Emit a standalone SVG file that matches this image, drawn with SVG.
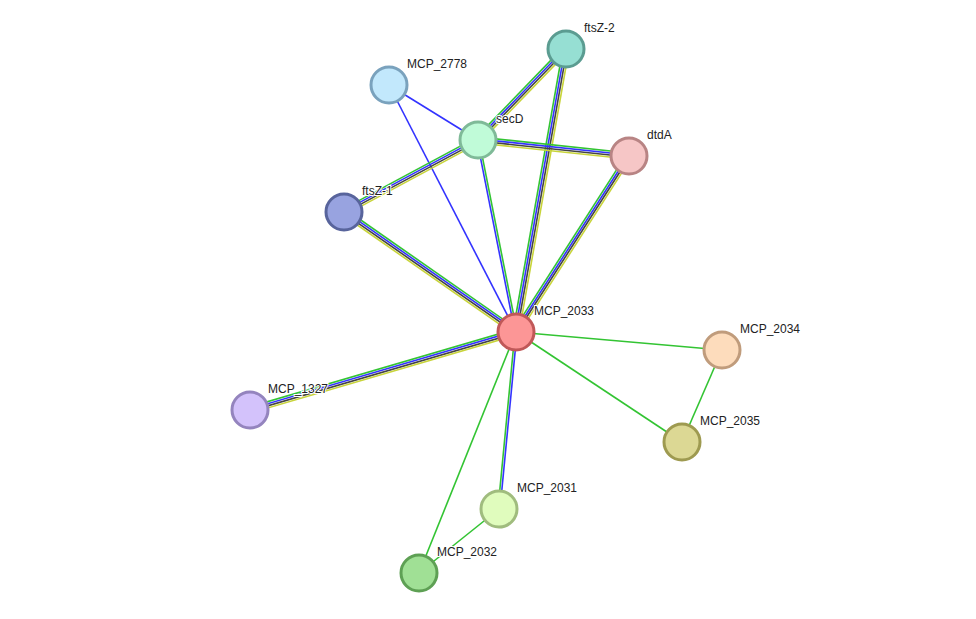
<svg xmlns="http://www.w3.org/2000/svg" width="976" height="619" viewBox="0 0 976 619">
<style>
line{stroke-width:1.6}
.g{stroke:#33c433}.b{stroke:#3333ff}.k{stroke:#444}.y{stroke:#c8d43a}
circle{stroke-width:3}
text{font-family:"Liberation Sans",Arial,sans-serif;font-size:12px;fill:#222;paint-order:stroke;stroke:#fff;stroke-width:2}
</style>
<rect width="976" height="619" fill="#fff"/>
<g id="edges">
<line class="b" x1="389" y1="85" x2="478" y2="140"/>
<line class="b" x1="389" y1="85" x2="516" y2="332"/>
<g><line class="g" x1="563.8" y1="46.9" x2="475.8" y2="137.9"/><line class="b" x1="565.3" y1="48.3" x2="477.3" y2="139.3"/><line class="k" x1="566.7" y1="49.7" x2="478.7" y2="140.7"/><line class="y" x1="568.2" y1="51.1" x2="480.2" y2="142.1"/></g>
<g><line class="g" x1="563" y1="48.5" x2="513" y2="331.5"/><line class="b" x1="565" y1="48.8" x2="515" y2="331.8"/><line class="k" x1="567" y1="49.2" x2="517" y2="332.2"/><line class="y" x1="569" y1="49.5" x2="519" y2="332.5"/></g>
<g><line class="g" x1="478.3" y1="137" x2="629.3" y2="153"/><line class="b" x1="478.1" y1="139" x2="629.1" y2="155"/><line class="k" x1="477.9" y1="141" x2="628.9" y2="157"/><line class="y" x1="477.7" y1="143" x2="628.7" y2="159"/></g>
<g><line class="g" x1="476.6" y1="137.4" x2="342.6" y2="209.4"/><line class="b" x1="477.5" y1="139.1" x2="343.5" y2="211.1"/><line class="k" x1="478.5" y1="140.9" x2="344.5" y2="212.9"/><line class="y" x1="479.4" y1="142.6" x2="345.4" y2="214.6"/></g>
<g><line class="b" x1="477" y1="140.2" x2="515" y2="332.2"/><line class="g" x1="479" y1="139.8" x2="517" y2="331.8"/></g>
<g><line class="g" x1="626.5" y1="154.4" x2="513.5" y2="330.4"/><line class="b" x1="628.2" y1="155.5" x2="515.2" y2="331.5"/><line class="k" x1="629.8" y1="156.5" x2="516.8" y2="332.5"/><line class="y" x1="631.5" y1="157.6" x2="518.5" y2="333.6"/></g>
<g><line class="g" x1="345.7" y1="209.5" x2="517.7" y2="329.5"/><line class="b" x1="344.6" y1="211.2" x2="516.6" y2="331.2"/><line class="k" x1="343.4" y1="212.8" x2="515.4" y2="332.8"/><line class="y" x1="342.3" y1="214.5" x2="514.3" y2="334.5"/></g>
<g><line class="g" x1="249.2" y1="407.1" x2="515.2" y2="329.1"/><line class="b" x1="249.7" y1="409" x2="515.7" y2="331"/><line class="k" x1="250.3" y1="411" x2="516.3" y2="333"/><line class="y" x1="250.8" y1="412.9" x2="516.8" y2="334.9"/></g>
<g><line class="g" x1="515" y1="331.9" x2="498" y2="508.9"/><line class="b" x1="517" y1="332.1" x2="500" y2="509.1"/></g>
<line class="g" x1="516" y1="332" x2="722" y2="350"/>
<line class="g" x1="516" y1="332" x2="682" y2="442"/>
<line class="g" x1="722" y1="350" x2="682" y2="442"/>
<line class="g" x1="516" y1="332" x2="419" y2="573"/>
<line class="g" x1="499" y1="509" x2="419" y2="573"/>
</g>
<g id="n-MCP_2778"><circle cx="389" cy="85" r="18" fill="#c2e8fc" stroke="#7aa2bd"/><text x="407" y="68">MCP_2778</text></g>
<g id="n-ftsZ-2"><circle cx="566" cy="49" r="18" fill="#96dfd3" stroke="#5b9c91"/><text x="584" y="32">ftsZ-2</text></g>
<g id="n-secD"><circle cx="478" cy="140" r="18" fill="#c0fbd8" stroke="#7fba98"/><text x="496" y="123">secD</text></g>
<g id="n-dtdA"><circle cx="629" cy="156" r="18" fill="#f6c6c6" stroke="#b88484"/><text x="647" y="139">dtdA</text></g>
<g id="n-ftsZ-1"><circle cx="344" cy="212" r="18" fill="#98a3e0" stroke="#58649c"/><text x="362" y="195">ftsZ-1</text></g>
<g id="n-MCP_2033"><circle cx="516" cy="332" r="18" fill="#fc9696" stroke="#c05858"/><text x="534" y="315">MCP_2033</text></g>
<g id="n-MCP_2034"><circle cx="722" cy="350" r="18" fill="#fddcbc" stroke="#c09c7c"/><text x="740" y="333">MCP_2034</text></g>
<g id="n-MCP_1327"><circle cx="250" cy="410" r="18" fill="#d3c2fb" stroke="#9484be"/><text x="268" y="393">MCP_1327</text></g>
<g id="n-MCP_2035"><circle cx="682" cy="442" r="18" fill="#dcd894" stroke="#9e9a50"/><text x="700" y="425">MCP_2035</text></g>
<g id="n-MCP_2031"><circle cx="499" cy="509" r="18" fill="#e0fcbd" stroke="#a0bc7e"/><text x="517" y="492">MCP_2031</text></g>
<g id="n-MCP_2032"><circle cx="419" cy="573" r="18" fill="#a0e095" stroke="#5ea054"/><text x="437" y="556">MCP_2032</text></g>
</svg>
